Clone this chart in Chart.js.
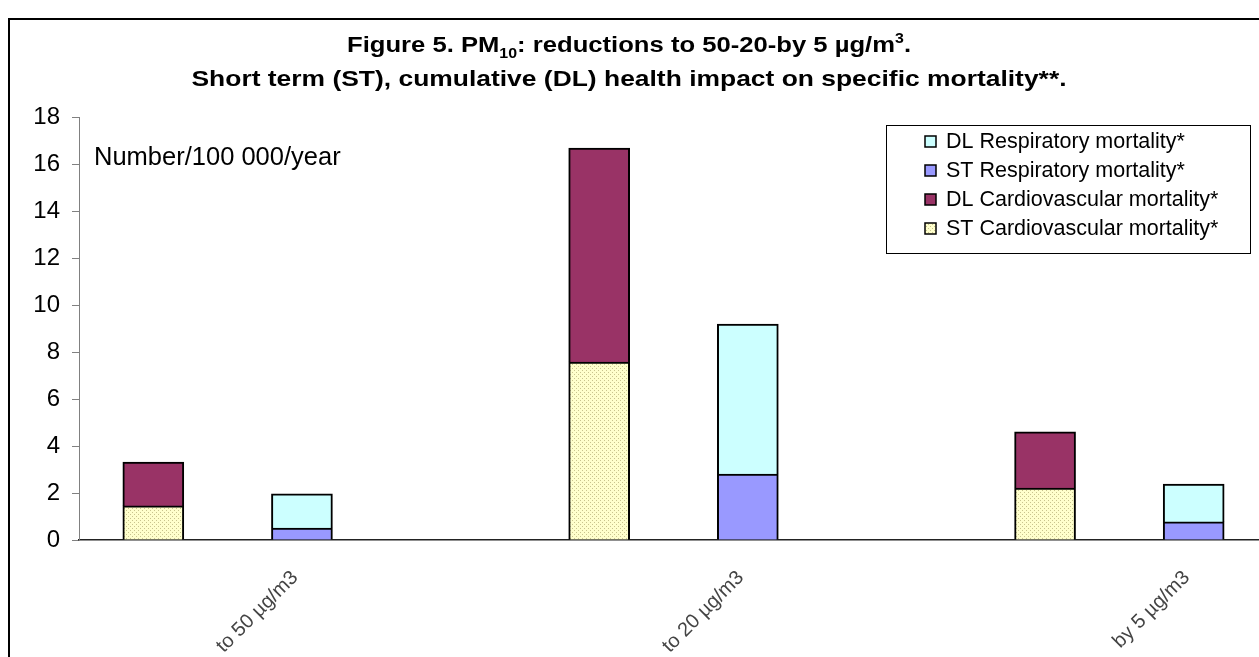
<!DOCTYPE html>
<html><head><meta charset="utf-8">
<script src="https://cdn.jsdelivr.net/npm/chart.js@4/dist/chart.umd.min.js"></script>
<style>
html,body{margin:0;padding:0;background:#fff;overflow:hidden}
#wrap{width:1259px;height:657px;overflow:hidden;position:relative;background:#fff}
canvas{display:block}
</style>
</head><body>
<div id="wrap"><canvas id="c" width="1290" height="657"></canvas></div>
<script>
// ---- data ----
const categories = ["", "to 50 µg/m3", "", "", "to 20 µg/m3", "", "", "by 5 µg/m3"];
const stCardio = [1.45, null, null, 7.57, null, null, 2.21, null];
const dlCardio = [1.87, null, null, 9.11, null, null, 2.39, null];
const stResp   = [null, 0.51, null, null, 2.81, null, null, 0.77];
const dlResp   = [null, 1.45, null, null, 6.38, null, null, 1.61];
const seriesNames = ["ST Cardiovascular mortality*", "DL Cardiovascular mortality*", "ST Respiratory mortality*", "DL Respiratory mortality*"];
const yMin = 0, yMax = 18, yStep = 2;
const unitLabel = "Number/100 000/year";

const FONT = "'Liberation Sans', Arial, sans-serif";

// dotted pale-yellow pattern
function makePattern() {
  const p = document.createElement('canvas');
  p.width = 4; p.height = 4;
  const g = p.getContext('2d');
  g.fillStyle = '#FFFFCC'; g.fillRect(0, 0, 4, 4);
  g.fillStyle = '#C9C48E';
  g.fillRect(0, 0, 1, 1); g.fillRect(2, 2, 1, 1);
  return g.createPattern(p, 'repeat');
}
const dotted = makePattern();

const colors = [dotted, '#993366', '#9999FF', '#CCFFFF'];
const legendSwatch = [dotted, '#993366', '#9999FF', '#CCFFFF'];
const seriesData = [stCardio, dlCardio, stResp, dlResp];

const framePlugin = {
  id: 'frame',
  beforeDraw(chart) {
    const c = chart.ctx;
    c.save();
    c.fillStyle = '#fff';
    c.fillRect(0, 0, chart.width, chart.height);
    c.strokeStyle = '#000';
    c.lineWidth = 2;
    c.strokeRect(9, 19, 1400, 800);
    c.restore();
  }
};

function measureRich(c, segs, size) {
  let total = 0;
  const parts = segs.map(s => {
    const fs = s.sub || s.sup ? Math.round(size * 0.62) : size;
    c.font = 'bold ' + fs + 'px ' + FONT;
    const w = c.measureText(s.t).width;
    total += w;
    return {t: s.t, fs, w, dy: s.sub ? size * 0.26 : (s.sup ? -size * 0.42 : 0)};
  });
  return {parts, total};
}

function drawRich(c, segs, cx, baseline, size, targetWidth) {
  const {parts, total} = measureRich(c, segs, size);
  const sx = targetWidth / total;
  c.save();
  c.translate(cx, baseline);
  c.scale(sx, 1);
  let x = -total / 2;
  c.fillStyle = '#000';
  c.textBaseline = 'alphabetic';
  c.textAlign = 'left';
  for (const p of parts) {
    c.font = 'bold ' + p.fs + 'px ' + FONT;
    c.fillText(p.t, x, p.dy);
    x += p.w;
  }
  c.restore();
}

const titlePlugin = {
  id: 'titleRich',
  afterDraw(chart) {
    const c = chart.ctx;
    const size = 22.5;
    drawRich(c, [{t: "Figure 5. PM"}, {t: "10", sub: true}, {t: ": reductions to 50-20-by 5 µg/m"}, {t: "3", sup: true}, {t: "."}], 629, 52, size, 564);
    drawRich(c, [{t: "Short term (ST), cumulative (DL) health impact on specific mortality**."}], 629, 86, size, 875);
    // unit label
    c.save();
    c.font = '25.5px ' + FONT;
    c.fillStyle = '#000';
    c.textBaseline = 'middle';
    c.textAlign = 'left';
    c.fillText(unitLabel, 94, 158);
    c.restore();
  }
};

const legendPlugin = {
  id: 'boxLegend',
  afterDraw(chart) {
    const c = chart.ctx;
    c.save();
    const x0 = 886, y0 = 125, w = 364, h = 128;
    c.fillStyle = '#fff';
    c.fillRect(x0, y0, w, h);
    c.strokeStyle = '#000';
    c.lineWidth = 1;
    c.strokeRect(x0 + 0.5, y0 + 0.5, w, h);
    c.font = '21.5px ' + FONT;
    c.textBaseline = 'middle';
    c.textAlign = 'left';
    const order = [3, 2, 1, 0];
    order.forEach((di, i) => {
      const y = 141 + i * 29;
      c.fillStyle = legendSwatch[di];
      c.fillRect(925, y - 5, 11, 11);
      c.strokeStyle = '#000';
      c.lineWidth = 1.5;
      c.strokeRect(925, y - 5, 11, 11);
      c.fillStyle = '#000';
      c.fillText(chart.data.datasets[di].label, 946, y + 1);
    });
    c.restore();
  }
};

new Chart(document.getElementById('c'), {
  type: 'bar',
  data: {
    labels: categories,
    datasets: seriesData.map((d, i) => ({
      label: seriesNames[i],
      data: d,
      backgroundColor: colors[i],
      borderColor: '#000',
      borderWidth: 2,
      barThickness: 61,
      stack: 's'
    }))
  },
  options: {
    responsive: false,
    animation: false,
    devicePixelRatio: 1,
    layout: {padding: {left: 0, top: 117, right: 22, bottom: 0}},
    plugins: {legend: {display: false}, title: {display: false}, tooltip: {enabled: false}},
    scales: {
      x: {
        stacked: true,
        grid: {display: false, drawTicks: false},
        border: {display: true, color: '#222', width: 1.5},
        ticks: {
          autoSkip: false, maxRotation: 45, minRotation: 45,
          padding: 26,
          labelOffset: -7,
          color: '#444',
          font: {family: FONT, size: 20}
        },
        afterFit(s) { s.height = 117; s.paddingLeft = 0; s.paddingRight = 0; }
      },
      y: {
        stacked: true,
        min: yMin, max: yMax,
        ticks: {stepSize: yStep, padding: 12, color: '#000', font: {family: FONT, size: 24}},
        grid: {drawOnChartArea: false, drawTicks: true, tickLength: 7, color: '#808080', lineWidth: 1},
        border: {display: true, color: '#808080', width: 1},
        afterFit(s) { s.width = 79; }
      }
    }
  },
  plugins: [framePlugin, titlePlugin, legendPlugin]
});
</script>
</body></html>
